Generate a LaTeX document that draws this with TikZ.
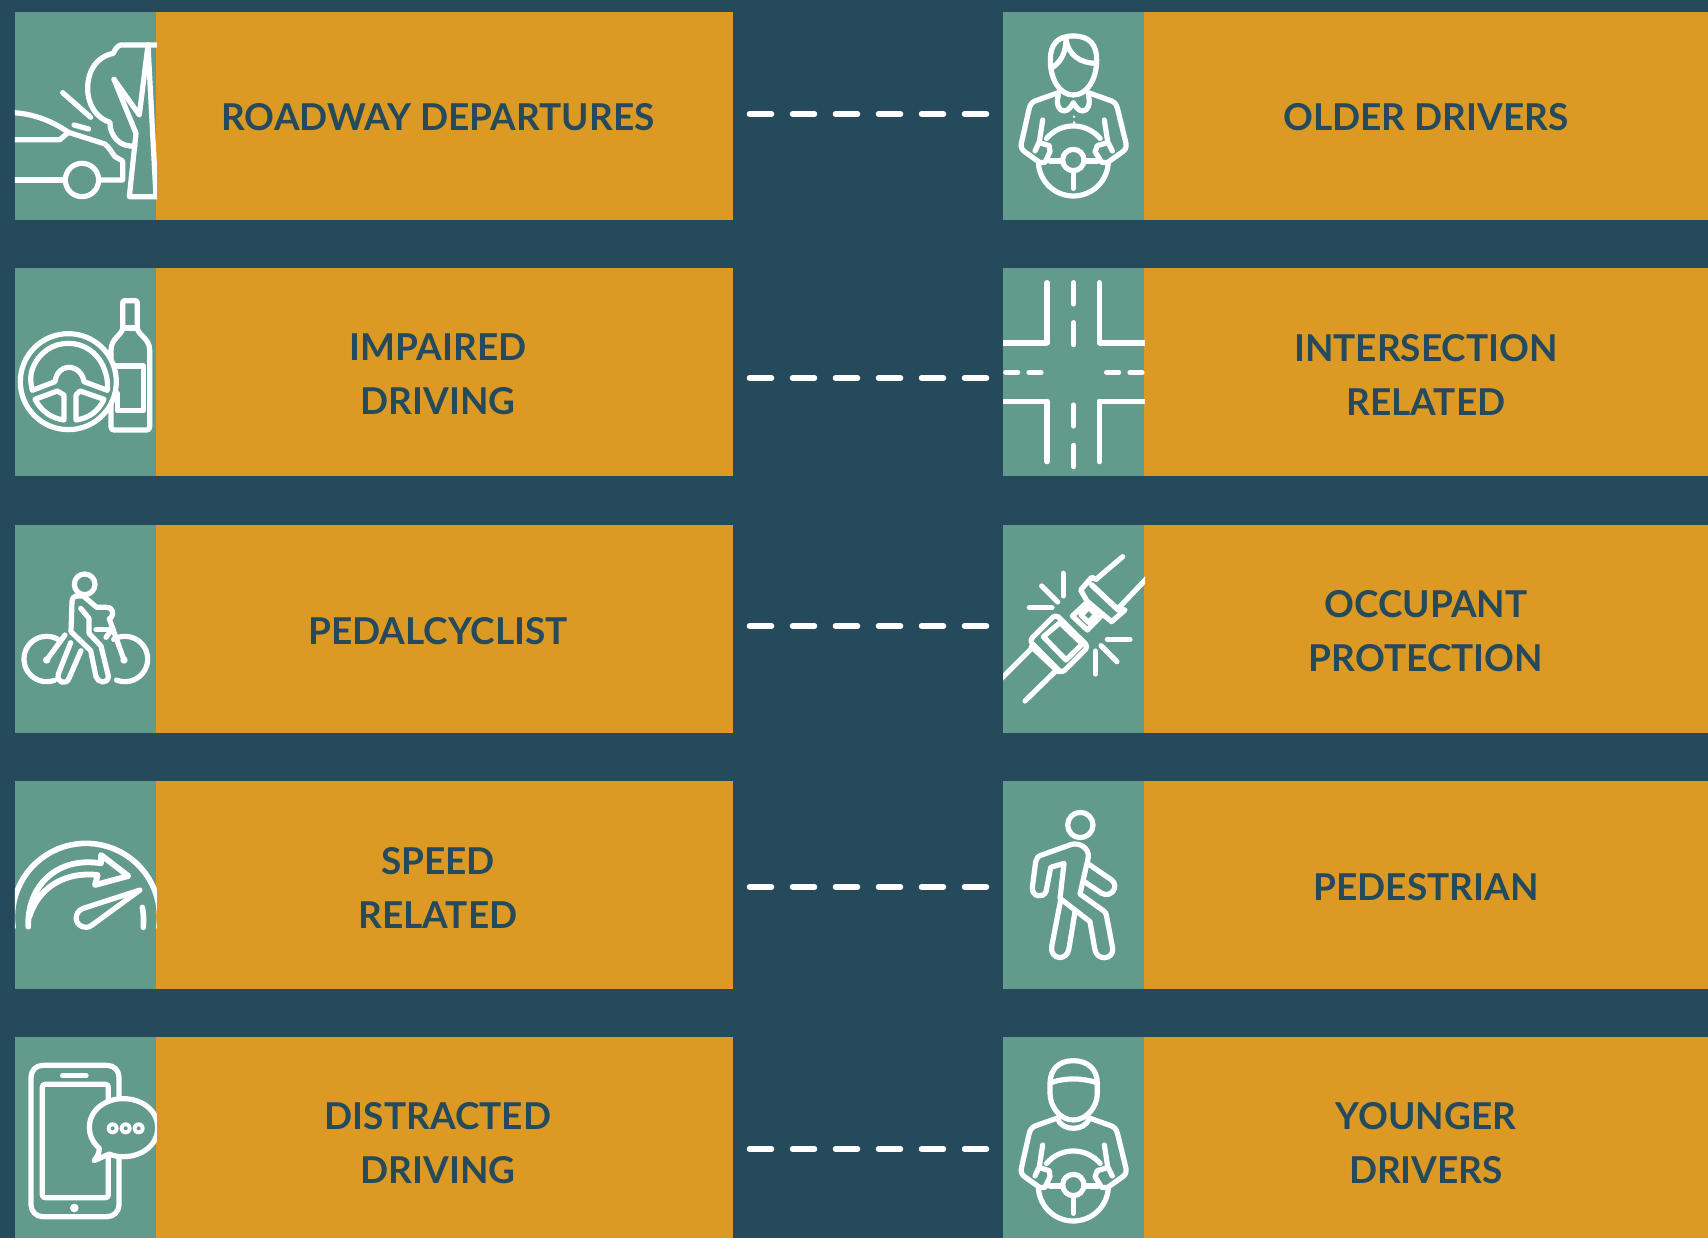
\documentclass[tikz,border=0pt]{standalone}
\usepackage{fontspec}
\setmainfont{Lato}
\definecolor{bgc}{RGB}{37,74,91}
\definecolor{grn}{RGB}{98,155,139}
\definecolor{org}{RGB}{220,154,37}
\newcommand\zarc[5]{plot[domain=#4:#5,samples=40] ({#1+#3*cos(\x)},{#2+#3*sin(\x)})}
\tikzset{
  greenbox/.style={fill=grn,inner sep=0pt,outer sep=0pt,anchor=north west,minimum width=141pt},
  lbox/.style={fill=org,inner sep=0pt,outer sep=0pt,anchor=north west,minimum width=577pt},
  rbox/.style={fill=org,inner sep=0pt,outer sep=0pt,anchor=north west,minimum width=564pt},
  label/.style={text=bgc,font=\fontsize{37}{54}\selectfont\bfseries,align=center,inner sep=0pt},
  dashline/.style={draw=white,line width=5.5pt,line cap=round,dash pattern=on 22pt off 21pt},
  ic/.style={draw=white,line width=5.2pt,line cap=round,line join=round},
  zoomed/.style={x=0.33333pt,y=-0.33333pt},
}
\newcommand\driverbody{%
  \draw[ic] (205,278) -- (135,303) .. controls (124,308) and (120,316) .. (117,328) -- (94,430) .. controls (92,443) and (96,449) .. (105,456) -- (150,488);
  \draw[ic] (295,278) -- (365,303) .. controls (376,308) and (380,316) .. (383,328) -- (408,430) .. controls (410,443) and (406,449) .. (397,456) -- (352,488);
  \draw[ic] (158,360) -- (148,425) -- (135,453);
  \draw[ic] (343,360) -- (353,425) -- (367,453);
  \draw[ic] (148,428) -- (178,437) -- (180,455) -- (165,487) -- (150,488);
  \draw[ic] (353,428) -- (322,437) -- (315,455) -- (335,487) -- (352,488);
  \draw[ic] \zarc{250}{483}{105}{-140}{-40};
  \draw[ic] \zarc{250}{483}{105}{5}{175};
  \draw[ic] (250,480) circle (32);
  \draw[ic] (180,483) -- (218,483);
  \draw[ic] (282,483) -- (322,483);
  \draw[ic] (250,515) -- (250,565);
}
\begin{document}
\begin{tikzpicture}[x=1pt,y=-1pt]
\useasboundingbox (0,0) rectangle (1708,1238);
\fill[bgc] (0,0) rectangle (1708,1238);
% left column
\node[greenbox,minimum height=208pt] (lg1) at (15,12) {};
\node[lbox,minimum height=208pt] (lo1) at (156,12) {};
\node[greenbox,minimum height=208pt] (lg2) at (15,268) {};
\node[lbox,minimum height=208pt] (lo2) at (156,268) {};
\node[greenbox,minimum height=208pt] (lg3) at (15,525) {};
\node[lbox,minimum height=208pt] (lo3) at (156,525) {};
\node[greenbox,minimum height=208pt] (lg4) at (15,781) {};
\node[lbox,minimum height=208pt] (lo4) at (156,781) {};
\node[greenbox,minimum height=201pt] (lg5) at (15,1037) {};
\node[lbox,minimum height=201pt] (lo5) at (156,1037) {};
% right column
\node[greenbox,minimum height=208pt] (rg1) at (1003,12) {};
\node[rbox,minimum height=208pt] (ro1) at (1144,12) {};
\node[greenbox,minimum height=208pt] (rg2) at (1003,268) {};
\node[rbox,minimum height=208pt] (ro2) at (1144,268) {};
\node[greenbox,minimum height=208pt] (rg3) at (1003,525) {};
\node[rbox,minimum height=208pt] (ro3) at (1144,525) {};
\node[greenbox,minimum height=208pt] (rg4) at (1003,781) {};
\node[rbox,minimum height=208pt] (ro4) at (1144,781) {};
\node[greenbox,minimum height=201pt] (rg5) at (1003,1037) {};
\node[rbox,minimum height=201pt] (ro5) at (1144,1037) {};
% labels
\node[label] (t1) at (438,117) {ROADWAY DEPARTURES};
\node[label] (t2) at (438,374.5) {IMPAIRED\\DRIVING};
\node[label] (t3) at (438,631) {PEDALCYCLIST};
\node[label] (t4) at (438,887.5) {SPEED\\RELATED};
\node[label] (t5) at (438,1143.5) {DISTRACTED\\DRIVING};
\node[label] (t6) at (1426,117) {OLDER DRIVERS};
\node[label] (t7) at (1426,374.5) {INTERSECTION\\RELATED};
\node[label] (t8) at (1426,631) {OCCUPANT\\PROTECTION};
\node[label] (t9) at (1426,887) {PEDESTRIAN};
\node[label] (t10) at (1426,1143.5) {YOUNGER\\DRIVERS};
% connectors
\foreach \i/\yy in {1/114,2/378,3/626,4/887,5/1149}{
  \coordinate (da\i) at (749.5,\yy);
  \coordinate (db\i) at (986.5,\yy);
  \draw[dashline] (da\i) -- (db\i);
}
% icon 1: roadway departure
\begin{scope}[shift={(0,0)},zoomed]
\clip (45,36) rectangle (471,660);
\draw[ic] (30,338) .. controls (100,338) and (165,368) .. (205,397);
\draw[ic] (30,419) -- (180,419) -- (205,397) -- (315,432) .. controls (328,442) and (335,458) .. (345,470) -- (368,483) -- (368,540) -- (300,540);
\draw[ic] (30,540) -- (195,540);
\draw[ic] (246,540) circle (50);
\draw[ic] (480,135) -- (362,135) .. controls (352,138) and (345,148) .. (340,160) .. controls (290,170) and (263,212) .. (263,265) .. controls (263,315) and (290,355) .. (330,367) .. controls (328,405) and (360,445) .. (405,437);
\draw[ic] (342,238) -- (408,400) -- (388,590) -- (480,590);
\draw[ic] (444,135) -- (418,345) -- (342,238);
\draw[ic] (444,135) -- (468,590);
\draw[ic] (188,278) -- (272,352);
\draw[ic] (222,375) -- (266,387);
\end{scope}
% icon 2: impaired
\begin{scope}[shift={(0,260)},zoomed]
\draw[ic] (368,205) -- (368,130) .. controls (368,124) and (370,122) .. (374,122) -- (406,122) .. controls (410,122) and (412,124) .. (412,130) -- (412,205) .. controls (414,225) and (449,235) .. (449,270) -- (449,500) .. controls (449,507) and (446,510) .. (440,510) -- (342,510) .. controls (336,510) and (333,507) .. (333,500) -- (333,270) .. controls (333,235) and (366,225) .. (368,205);
\draw[ic] (372,204) -- (408,204);
\draw[ic] (345,318) -- (430,318) -- (430,452) -- (352,452) -- (352,400);
\draw[ic,fill=grn] (205,365) circle (144);
\draw[ic] (97,391) .. controls (90,360) and (90,345) .. (100,320) .. controls (120,275) and (160,250) .. (205,250) .. controls (250,250) and (290,275) .. (310,320) .. controls (320,345) and (325,365) .. (322,391) -- (252,365) .. controls (248,340) and (230,322) .. (205,322) .. controls (185,322) and (168,340) .. (165,365) -- cycle;
\draw[ic] (105,418) -- (172,393) -- (192,405) -- (192,480) .. controls (155,475) and (125,455) .. (105,418) -- cycle;
\draw[ic] (228,480) -- (228,405) -- (240,393) -- (312,418) .. controls (295,455) and (265,475) .. (228,480) -- cycle;
\end{scope}
% icon 3: cyclist
\begin{scope}[shift={(0,520)},zoomed]
\draw[ic] (254,193) circle (31);
\draw[ic] (250,228) -- (232,228) .. controls (222,228) and (216,235) .. (216,245) -- (213,335) -- (272,392) -- (288,470) .. controls (292,488) and (325,495) .. (325,468) -- (303,378) -- (267,340) -- (267,295) -- (242,265);
\draw[ic] (250,228) -- (290,262) -- (320,262) .. controls (340,262) and (345,285) .. (328,297);
\draw[ic] (328,297) -- (372,420);
\draw[ic] (288,328) -- (335,328);
\draw[ic] (318,352) -- (338,325);
\fill[white] (372,420) circle (11);
\fill[white] (140,420) circle (11);
\draw[ic] (140,420) -- (195,345);
\draw[ic] \zarc{140}{417}{68}{70}{300};
\draw[ic] \zarc{375}{417}{68}{-120}{112};
\draw[ic] (212,368) -- (175,462) .. controls (168,490) and (200,495) .. (207,475) -- (243,392);
\end{scope}
% icon 4: speed
\begin{scope}[shift={(0,780)},zoomed]
\clip (45,0) rectangle (471,630);
\draw[ic,line width=5.6pt] \zarc{258}{411}{221}{172}{368};
\draw[ic,line width=5.8pt] (85,440) .. controls (80,320) and (170,228) .. (303,250) -- (303,225) -- (385,288) -- (285,315) -- (293,285) .. controls (210,275) and (120,310) .. (88,410);
\draw[ic] (420,330) -- (250,385) .. controls (220,395) and (220,440) .. (258,442) .. controls (265,442) and (270,440) .. (275,436) -- cycle;
\draw[ic,line width=5.6pt] (427,382) .. controls (431,400) and (431,420) .. (430,442);
\end{scope}
% icon 5: phone
\begin{scope}[shift={(0,1030)},zoomed]
\clip (45,0) rectangle (471,624);
\draw[ic,rounded corners=35pt/3] (93,106) rectangle (357,560);
\draw[ic,rounded corners=8pt/3] (127,163) rectangle (325,503);
\draw[ic,line width=5.4pt] (188,137) -- (258,137);
\fill[white] (223,534) circle (13);
\draw[ic,fill=grn] (328,372) -- (282,392) .. controls (292,380) and (298,368) .. (298,355) .. controls (275,335) and (268,310) .. (268,293) .. controls (268,240) and (315,206) .. (370,206) .. controls (425,206) and (473,240) .. (473,293) .. controls (473,346) and (425,380) .. (370,380) .. controls (355,380) and (340,378) .. (328,372) -- cycle;
\foreach \dx in {338,377,416}{
  \fill[white] (\dx,295) circle (18);
  \fill[grn] (\dx,295) circle (6);
}
\end{scope}
% icon 6: older driver
\begin{scope}[shift={(990,0)},zoomed]
\draw[ic] (250,108) .. controls (300,108) and (320,135) .. (320,180) .. controls (320,240) and (290,285) .. (250,285) .. controls (210,285) and (181,240) .. (181,180) .. controls (181,135) and (200,108) .. (250,108) -- cycle;
\draw[ic] (228,118) .. controls (235,165) and (270,190) .. (320,190);
\draw[ic] (228,118) .. controls (228,160) and (210,190) .. (183,205);
\draw[ic] (205,285) .. controls (198,310) and (205,333) .. (222,333) .. controls (235,333) and (245,318) .. (250,308) .. controls (255,318) and (265,333) .. (278,333) .. controls (295,333) and (302,310) .. (295,285);
\fill[white] (252,350) circle (4);
\fill[white] (252,367) circle (4);
\driverbody
\end{scope}
% icon 7: intersection
\begin{scope}[shift={(990,260)},zoomed]
\clip (39,24) rectangle (465,648);
\draw[ic,line cap=butt] (39,249) -- (171,249);
\draw[ic] (171,249) -- (171,68);
\draw[ic,line cap=butt] (465,249) -- (328,249);
\draw[ic] (328,249) -- (328,68);
\draw[ic,line cap=butt] (39,424) -- (171,424);
\draw[ic] (171,424) -- (171,605);
\draw[ic,line cap=butt] (465,424) -- (328,424);
\draw[ic] (328,424) -- (328,605);
\draw[ic] (251,68) -- (251,132);
\draw[ic] (251,188) -- (251,254);
\draw[ic] (251,435) -- (251,498);
\draw[ic] (251,556) -- (251,620);
\draw[ic] (47,337) -- (83,337);
\draw[ic] (117,337) -- (153,337);
\draw[ic] (350,337) -- (386,337);
\draw[ic] (420,337) -- (456,337);
\end{scope}
% icon 8: seat belt
\begin{scope}[shift={(990,520)},zoomed]
\clip (39,0) rectangle (465,640);
\draw[ic] (30,480) -- (125,385);
\draw[ic] (105,543) -- (195,455);
\draw[ic,rounded corners=12pt/3] (197,283) -- (118,362) -- (215,460) -- (295,380) -- cycle;
\draw[ic] (124,380) -- (205,455);
\draw[ic] (210,308) -- (160,350) -- (228,420) -- (277,372) -- cycle;
\draw[ic] (247,288) -- (293,245) -- (338,283) -- (292,330) -- cycle;
\draw[ic] (273,285) -- (297,262) -- (318,285) -- (295,307) -- cycle;
\draw[ic] (295,250) -- (272,210) -- (305,172) -- (318,178);
\draw[ic] (338,283) -- (365,305) -- (405,270) -- (385,265);
\draw[ic,line width=5.6pt] (305,195) -- (385,270);
\draw[ic] (318,178) -- (398,110);
\draw[ic] (385,265) -- (475,170);
\draw[ic] (220,160) -- (220,228);
\draw[ic] (155,198) -- (203,246);
\draw[ic] (118,263) -- (186,263);
\draw[ic] (352,358) -- (420,358);
\draw[ic] (333,377) -- (381,425);
\draw[ic] (316,393) -- (316,462);
\end{scope}
% icon 9: pedestrian
\begin{scope}[shift={(990,780)},zoomed]
\draw[ic] (271,135) circle (38);
\draw[ic] (222,250) -- (182,262) -- (168,335) .. controls (160,355) and (125,352) .. (127,322) -- (137,245) .. controls (138,235) and (145,228) .. (155,225) -- (245,193) .. controls (270,187) and (298,205) .. (295,232) -- (270,342) -- (340,392) .. controls (345,395) and (348,400) .. (349,405) -- (368,505) .. controls (372,540) and (318,545) .. (314,505) -- (300,425) -- (210,355) -- (222,250) -- cycle;
\draw[ic] (292,250) -- (365,300) .. controls (388,318) and (365,355) .. (335,340) -- (283,305);
\draw[ic] (212,360) -- (185,500) .. controls (180,540) and (232,545) .. (237,505) -- (255,395);
\end{scope}
% icon 10: younger driver
\begin{scope}[shift={(990,1030)},zoomed]
\draw[ic] (250,92) .. controls (295,92) and (322,120) .. (322,160) -- (322,190) .. controls (322,230) and (290,270) .. (250,270) .. controls (210,270) and (180,230) .. (180,190) -- (180,160) .. controls (180,120) and (205,92) .. (250,92) -- cycle;
\draw[ic] (183,158) .. controls (225,143) and (275,143) .. (320,158);
\draw[ic] (202,265) .. controls (215,305) and (285,305) .. (298,265);
\begin{scope}[shift={(0,-15)}]
\driverbody
\end{scope}
\end{scope}
\end{tikzpicture}
\end{document}
